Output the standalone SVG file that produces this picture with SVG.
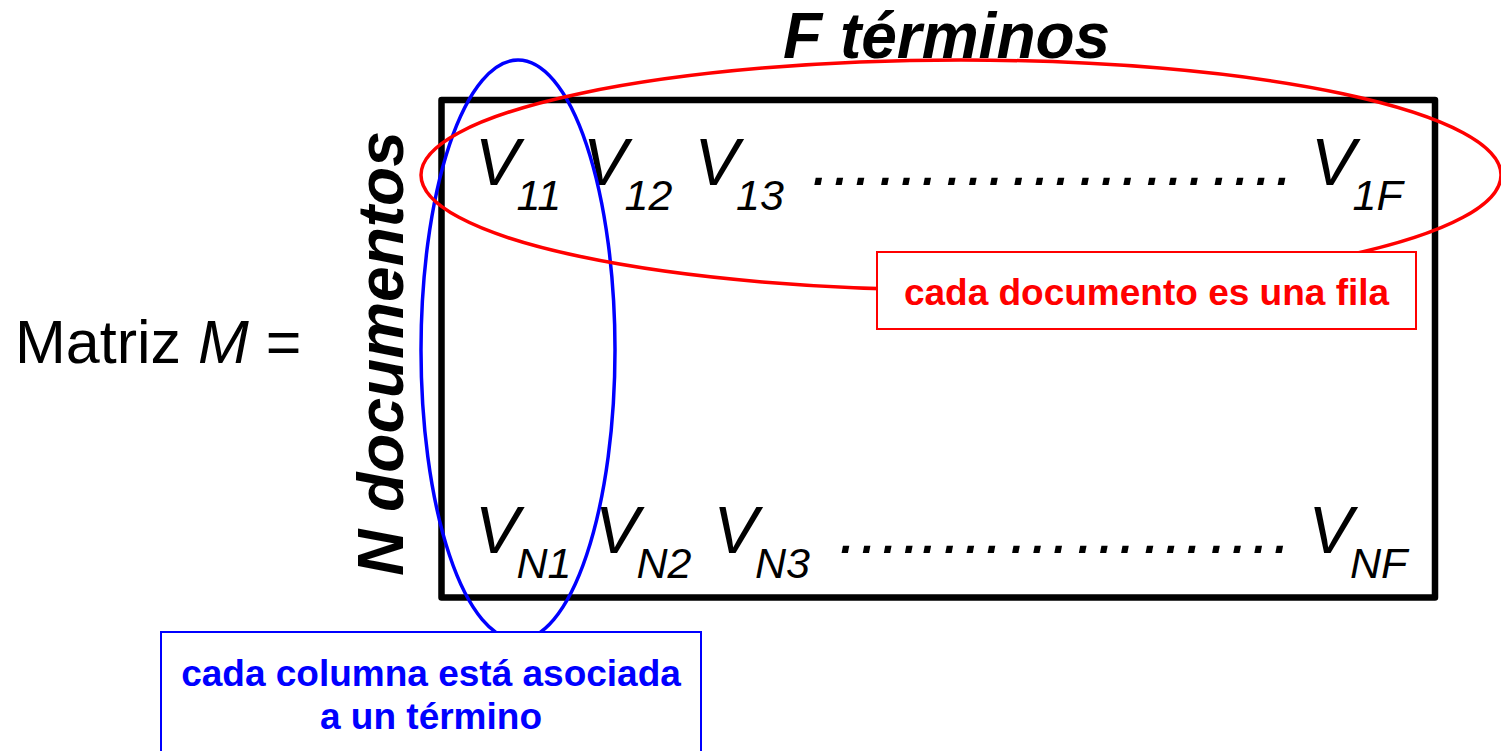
<svg xmlns="http://www.w3.org/2000/svg" width="1501" height="751" viewBox="0 0 1501 751">
<style>
  .v { font-family: "Liberation Sans", Arial, sans-serif; font-style: italic; font-size: 66.7px; fill: #000; }
  .sub { font-size: 43px; }
  .title { font-family: "Liberation Sans", Arial, sans-serif; font-style: italic; font-weight: bold; fill: #000; }
  .lbl { font-family: "Liberation Sans", Arial, sans-serif; font-weight: bold; font-size: 37px; text-anchor: middle; }
</style>
<rect width="1501" height="751" fill="#fff"/>

<g id="matrix-label">
  <text x="15" y="363" font-family="Liberation Sans, Arial, sans-serif" font-size="61" fill="#000">Matriz <tspan font-style="italic">M</tspan> =</text>
</g>

<g id="f-terminos">
  <text class="title" x="783" y="58" font-size="64">F términos</text>
</g>

<g id="n-documentos">
  <text class="title" font-size="64" text-anchor="middle" transform="translate(403,353.5) rotate(-90)">N documentos</text>
</g>

<g id="matrix">
  <rect x="441.5" y="100" width="993.5" height="497.5" fill="none" stroke="#000" stroke-width="6.5" stroke-linejoin="round"/>
  <g id="row-1">
    <text class="v" x="475" y="185">V<tspan class="sub" dx="-3" dy="25">11</tspan></text>
    <text class="v" x="583" y="185">V<tspan class="sub" dx="-3" dy="25">12</tspan></text>
    <text class="v" x="694.5" y="185">V<tspan class="sub" dx="-3" dy="25">13</tspan></text>
    <text class="v" x="808.3" y="185">………………….</text>
    <text class="v" x="1311" y="185">V<tspan class="sub" dx="-3" dy="25">1F</tspan></text>
  </g>
  <g id="row-n">
    <text class="v" x="475" y="553">V<tspan class="sub" dx="-3" dy="25">N1</tspan></text>
    <text class="v" x="595" y="553">V<tspan class="sub" dx="-3" dy="25">N2</tspan></text>
    <text class="v" x="713.5" y="553">V<tspan class="sub" dx="-3" dy="25">N3</tspan></text>
    <text class="v" x="835.6" y="553">…..…………….</text>
    <text class="v" x="1308.5" y="553">V<tspan class="sub" dx="-3" dy="25">NF</tspan></text>
  </g>
</g>

<g id="connectors">
  <ellipse id="column-ellipse" cx="518" cy="350" rx="97" ry="290" fill="none" stroke="#0000ff" stroke-width="3.5"/>
  <ellipse id="row-ellipse" cx="961" cy="175" rx="540" ry="115" fill="none" stroke="#ff0000" stroke-width="3.5"/>
</g>

<g id="row-note">
  <rect x="877" y="252" width="539" height="77" fill="#fff" stroke="#ff0000" stroke-width="2"/>
  <text class="lbl" x="1146.5" y="305" fill="#ff0000">cada documento es una fila</text>
</g>

<g id="column-note">
  <rect x="161" y="632" width="540" height="130" fill="#fff" stroke="#0000ff" stroke-width="2"/>
  <text class="lbl" x="431" y="686" fill="#0000ff">cada columna está asociada</text>
  <text class="lbl" x="431" y="729" fill="#0000ff">a un término</text>
</g>
</svg>
